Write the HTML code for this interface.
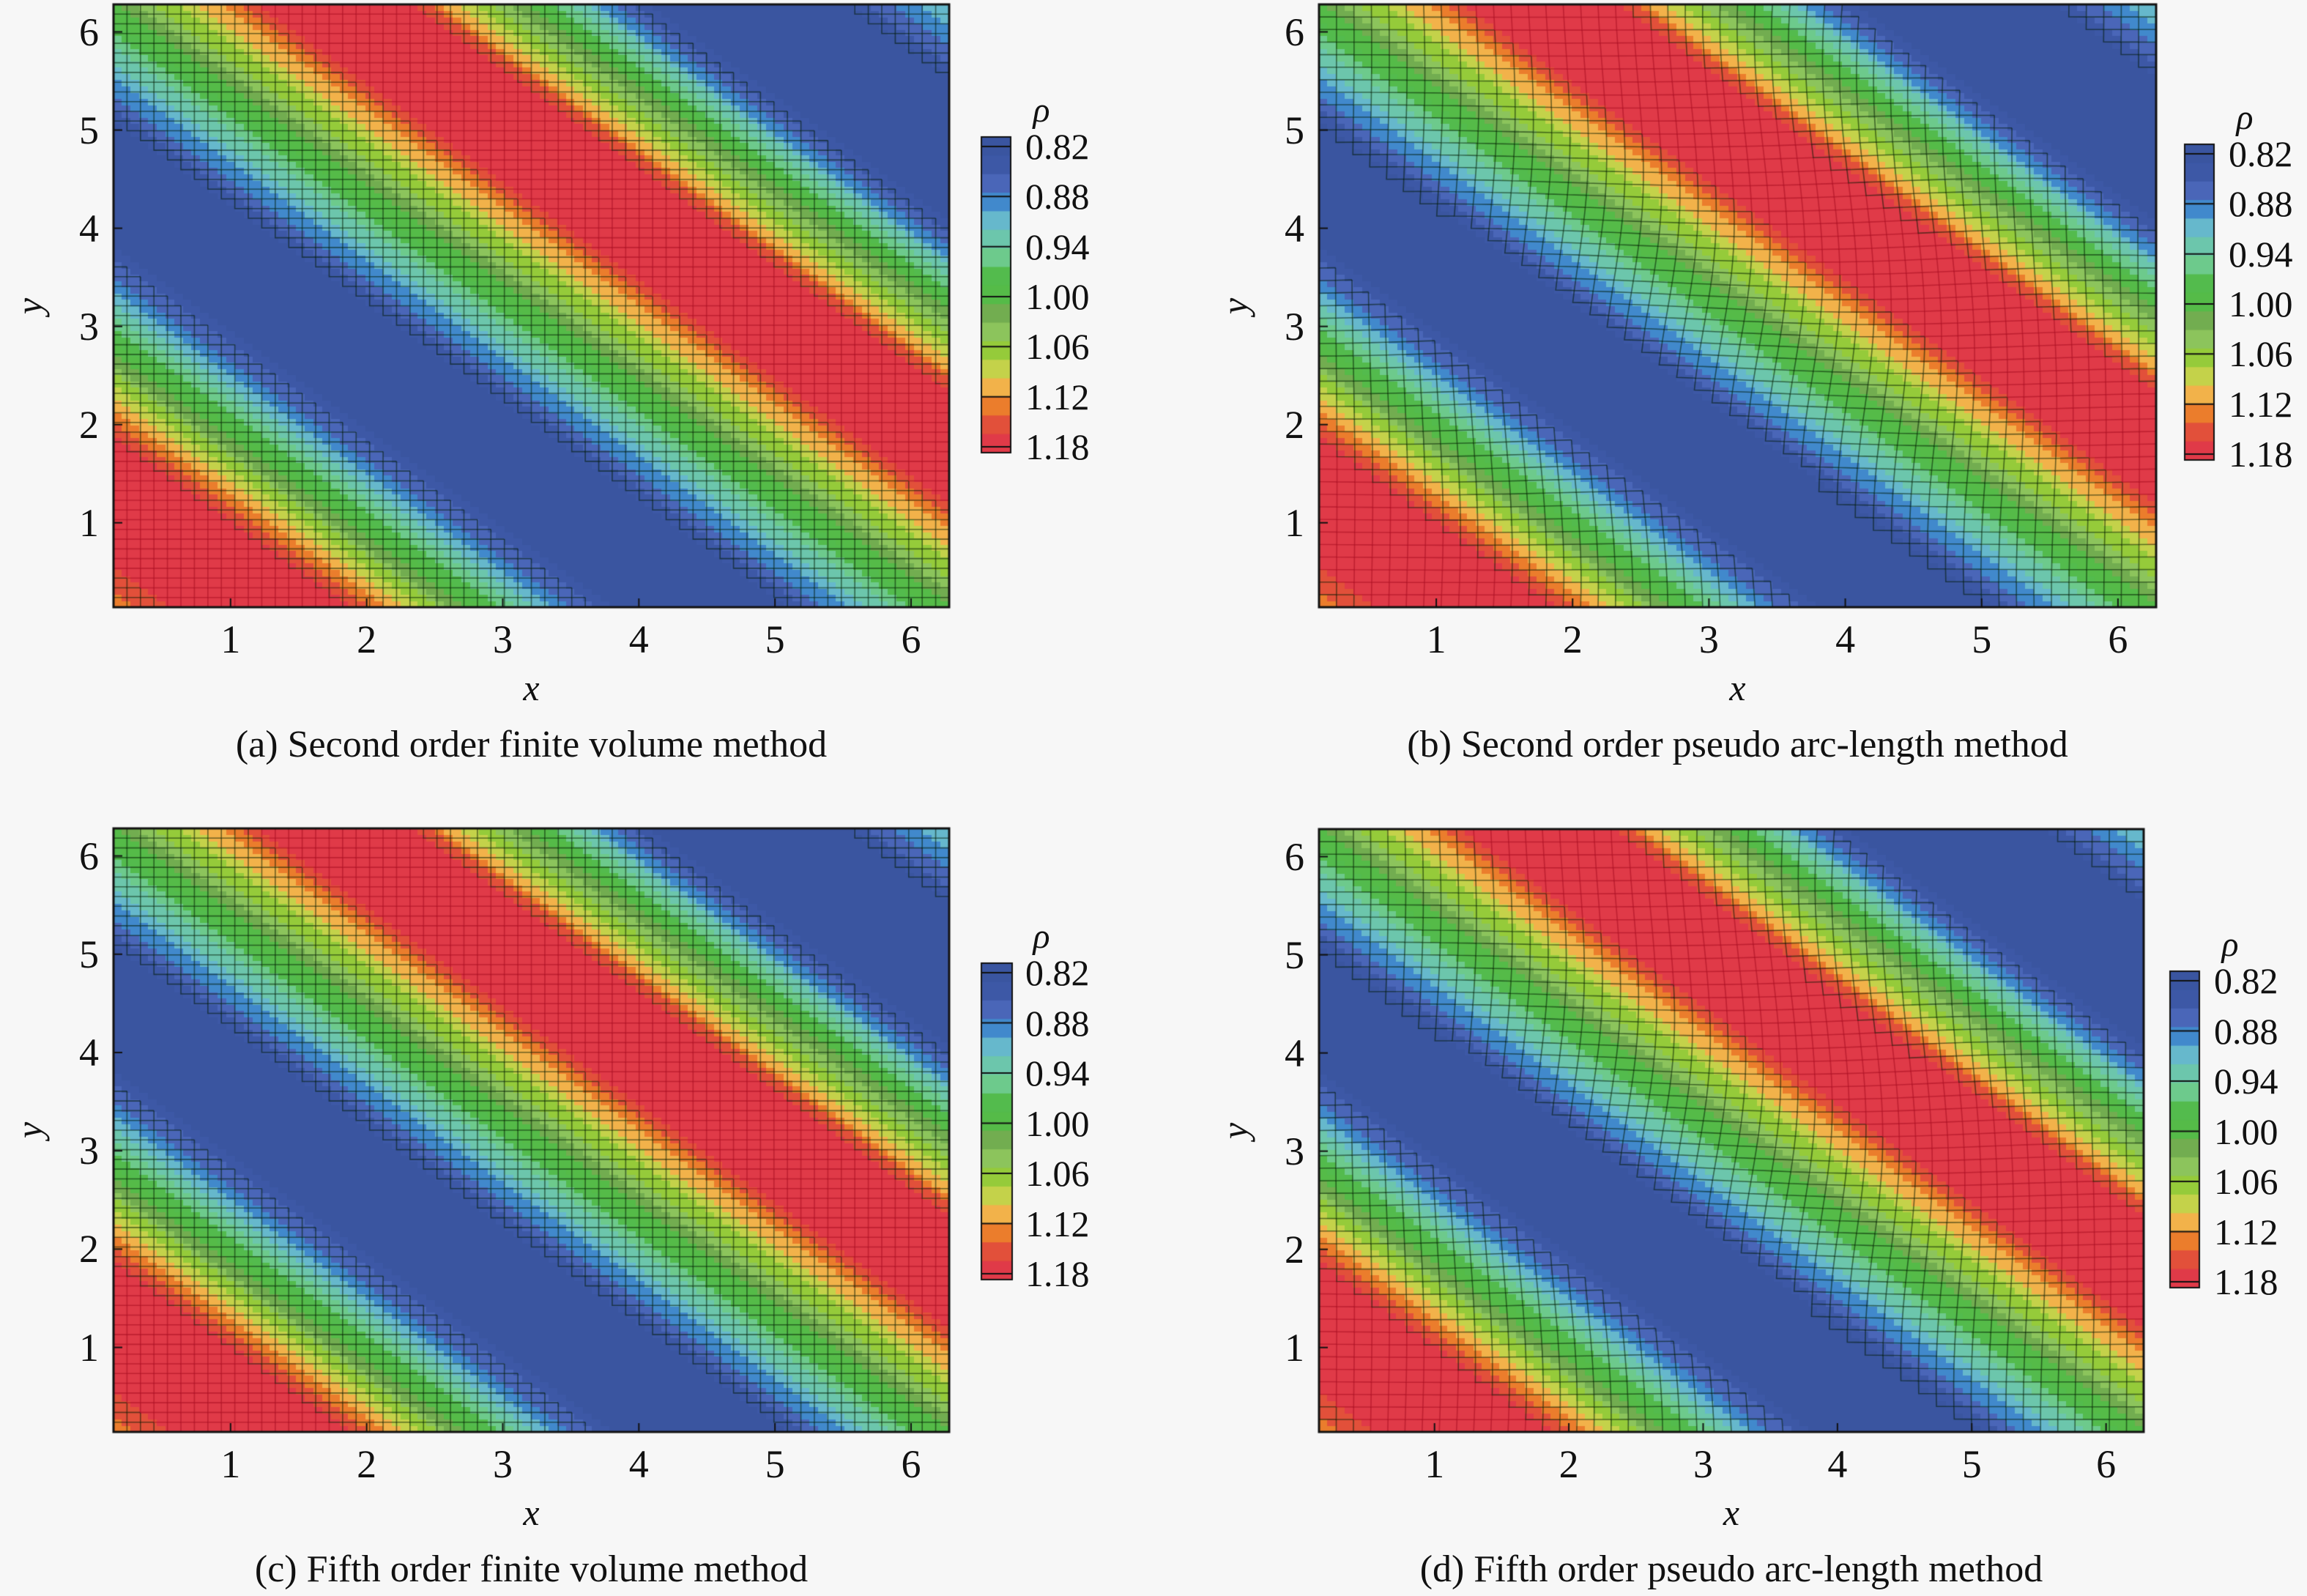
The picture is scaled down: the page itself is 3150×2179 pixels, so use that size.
<!DOCTYPE html>
<html><head><meta charset="utf-8">
<style>
html,body{margin:0;padding:0;background:#f7f7f7;}
#root{position:relative;width:3150px;height:2179px;overflow:hidden;background:#f7f7f7;font-family:"Liberation Serif",serif;color:#111;}
canvas{position:absolute;left:0;top:0;}
.t{position:absolute;white-space:nowrap;line-height:1;}
</style></head>
<body>
<div id="root">
<canvas id="cv" width="3150" height="2179"></canvas>
</div>
<script>
// ---- data ----
const profileS   = [0, 0.35, 0.7, 1.35, 2.0, 2.35, 2.75, 3.15, 3.55, 3.95, 4.56, 5.2, 5.65, 6.1, 6.55, 7.0, 7.5, 8.05, 8.6, 8.95, 9.35, 9.75, 10.05, 10.35, 11.07, 11.8, 12.2, 12.6];
const profileRho = [1.09, 1.14, 1.178, 1.20, 1.178, 1.12, 1.04, 0.96, 0.89, 0.822, 0.80, 0.822, 0.89, 0.96, 1.03, 1.10, 1.178, 1.20, 1.178, 1.11, 1.03, 0.95, 0.88, 0.822, 0.80, 0.822, 0.88, 0.93];
const colorbarLabels = ["0.82","0.88","0.94","1.00","1.06","1.12","1.18"];
const bandColors = ["#3a55a0","#3d58a6","#4a66b8","#4189cc","#66b8cc","#6cc6ac","#6dca8c","#53bb4d","#55bb48","#72ad50","#8cc45c","#95cb3a","#c4d24a","#f2b24a","#eb7d2c","#e2503a","#e03a48"];
const xTicks = [1,2,3,4,5,6];
const yTicks = [1,2,3,4,5,6];
const captions = ["(a) Second order finite volume method","(b) Second order pseudo arc-length method","(c) Fifth order finite volume method","(d) Fifth order pseudo arc-length method"];

const vMin = 0.80, vMax = 1.20, dMin = 0.14, dMax = 6.28;
const panels = [
 {L:155,T:6,R:1296,B:829,cb:{x:1340,y:187,w:40,h:431},warp:false},
 {L:1801,T:6,R:2944,B:829,cb:{x:2983,y:197,w:40,h:431},warp:true},
 {L:155,T:1131,R:1296,B:1955,cb:{x:1340,y:1315,w:42,h:432},warp:false},
 {L:1801,T:1132,R:2927,B:1955,cb:{x:2963,y:1326,w:40,h:432},warp:true}
];

function rho(x,y){
  const s=x+y;
  if(s<=profileS[0]) return profileRho[0];
  for(let i=1;i<profileS.length;i++){
    if(s<=profileS[i]){const f=(s-profileS[i-1])/(profileS[i]-profileS[i-1]);return profileRho[i-1]+f*(profileRho[i]-profileRho[i-1]);}
  }
  return profileRho[profileRho.length-1];
}
function colorOf(v){
  let k=Math.floor((v-vMin)/(vMax-vMin)*bandColors.length);
  k=Math.max(0,Math.min(bandColors.length-1,k));
  return bandColors[k];
}

const root=document.getElementById('root');
const ctx=document.getElementById('cv').getContext('2d');
function addText(txt,x,y,size,anchor,name,italic,rot){
  const d=document.createElement('div');
  d.className='t';
  d.textContent=txt;
  d.style.fontSize=size+'px';
  if(italic) d.style.fontStyle='italic';
  let tx=anchor==='middle'?'-50%':(anchor==='end'?'-100%':'0');
  d.style.left=x+'px';d.style.top=y+'px';
  d.style.transform='translate('+tx+',-50%)'+(rot?' rotate(-90deg)':'');
  
  
  root.appendChild(d);
}

panels.forEach((p,pi)=>{
  const W=p.R-p.L,H=p.B-p.T;
  const sx=x=>p.L+(x-dMin)/(dMax-dMin)*W;
  const sy=y=>p.B-(y-dMin)/(dMax-dMin)*H;
  ctx.save();
  ctx.beginPath();ctx.rect(p.L,p.T,W,H);ctx.clip();
  const N=96;
  for(let i=0;i<N;i++)for(let j=0;j<N;j++){
    const x=dMin+(i+0.5)*(dMax-dMin)/N, y=dMin+(j+0.5)*(dMax-dMin)/N;
    ctx.fillStyle=colorOf(rho(x,y));
    const x0=Math.floor(sx(dMin+i*(dMax-dMin)/N)),x1=Math.ceil(sx(dMin+(i+1)*(dMax-dMin)/N));
    const y1=Math.floor(sy(dMin+(j+1)*(dMax-dMin)/N)),y0=Math.ceil(sy(dMin+j*(dMax-dMin)/N));
    ctx.fillRect(x0,y1,x1-x0,y0-y1);
  }
  const M=p.warp?48:62;
  const node=(u,v)=>{
    let x=dMin+u*(dMax-dMin)/M,y=dMin+v*(dMax-dMin)/M;
    if(p.warp){const e=Math.sin(Math.PI*u/M)*Math.sin(Math.PI*v/M);const dx=0.12*e*Math.sin(x+y+0.4);x+=dx;y-=dx*0.6;}
    return [x,y];
  };
  ctx.lineWidth=1.6;
  for(let i=0;i<M;i++)for(let j=0;j<M;j++){
    const a=node(i,j),b=node(i+1,j),c=node(i,j+1);
    const v=rho((a[0]+b[0])/2,(a[1]+c[1])/2);
    if(v<0.83) continue;
    ctx.strokeStyle=v>1.176?'rgba(170,15,35,0.6)':'rgba(0,25,0,0.55)';
    ctx.beginPath();
    ctx.moveTo(sx(c[0]),sy(c[1]));ctx.lineTo(sx(a[0]),sy(a[1]));ctx.lineTo(sx(b[0]),sy(b[1]));
    ctx.stroke();
  }
  ctx.restore();
  ctx.strokeStyle='#111';ctx.lineWidth=3;
  ctx.strokeRect(p.L,p.T,W,H);
  ctx.lineWidth=2;
  xTicks.forEach(t=>{ctx.beginPath();ctx.moveTo(sx(t),p.B);ctx.lineTo(sx(t),p.B-12);ctx.stroke();
    addText(String(t),sx(t),p.B+44,54,'middle','x-tick-label');});
  yTicks.forEach(t=>{ctx.beginPath();ctx.moveTo(p.L,sy(t));ctx.lineTo(p.L+12,sy(t));ctx.stroke();
    addText(String(t),p.L-20,sy(t),54,'end','y-tick-label');});
  addText('x',(p.L+p.R)/2,p.B+110,50,'middle','x-axis-title',true);
  addText('y',p.L-115,(p.T+p.B)/2,50,'middle','y-axis-title',true,true);
  addText(captions[pi],(p.L+p.R)/2,p.B+188,52,'middle','panel-caption');
  const cb=p.cb,nb=bandColors.length;
  for(let k=0;k<nb;k++){
    ctx.fillStyle=bandColors[k];
    ctx.fillRect(cb.x,cb.y+k*cb.h/nb,cb.w,cb.h/nb+1);
  }
  ctx.strokeStyle='#111';ctx.lineWidth=2;ctx.strokeRect(cb.x,cb.y,cb.w,cb.h);
  colorbarLabels.forEach((lb,k)=>{
    const yy=cb.y+13+k*(cb.h-21)/(colorbarLabels.length-1);
    ctx.beginPath();ctx.moveTo(cb.x,yy);ctx.lineTo(cb.x+cb.w,yy);ctx.stroke();
    addText(lb,cb.x+60,yy,50,'start','colorbar-label');
  });
  addText('ρ',cb.x+82,cb.y-36,48,'middle','colorbar-title',true);
});
</script>
</body></html>
